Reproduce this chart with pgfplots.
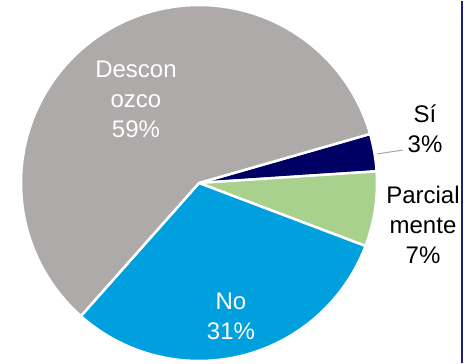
\documentclass[border=0pt]{standalone}
\usepackage{pgfplots}
\pgfplotsset{compat=1.18}
\usepackage{fontspec}
\setmainfont{Liberation Sans}
\definecolor{cGray}{RGB}{174,170,170}
\definecolor{cBlue}{RGB}{0,160,223}
\definecolor{cGreen}{RGB}{169,209,142}
\definecolor{cNavy}{RGB}{0,0,100}
\definecolor{cBorder}{RGB}{32,32,120}
\definecolor{cLeader}{RGB}{166,166,166}
% data (percent)
\def\vSi{3.4}
\def\vPa{6.8}
\def\vNo{30.8}
\def\vDe{59.0}
\def\startA{16}
\pgfmathsetmacro\aA{\startA}
\pgfmathsetmacro\aB{\aA-3.6*\vSi}
\pgfmathsetmacro\aC{\aB-3.6*\vPa}
\pgfmathsetmacro\aD{\aC-3.6*\vNo}
\pgfmathsetmacro\aE{\aD-3.6*\vDe}
\def\cx{199}
\def\cy{180}
\def\R{178}
\begin{document}
\begin{tikzpicture}
\begin{axis}[
  hide axis, scale only axis,
  width=469pt, height=362pt,
  xmin=0, xmax=469, ymin=0, ymax=362,
  clip=false,
]
\path (axis cs:0,0) rectangle (axis cs:469,362);
\addplot[fill=cNavy, draw=white, line width=2.5pt, line join=round, domain=\aB:\aA, samples=30]
  ({\cx+\R*cos(x)},{\cy+\R*sin(x)}) -- (axis cs:\cx,\cy) -- cycle;
\addplot[fill=cGreen, draw=white, line width=2.5pt, line join=round, domain=\aC:\aB, samples=40]
  ({\cx+\R*cos(x)},{\cy+\R*sin(x)}) -- (axis cs:\cx,\cy) -- cycle;
\addplot[fill=cBlue, draw=white, line width=2.5pt, line join=round, domain=\aD:\aC, samples=80]
  ({\cx+\R*cos(x)},{\cy+\R*sin(x)}) -- (axis cs:\cx,\cy) -- cycle;
\addplot[fill=cGray, draw=white, line width=2.5pt, line join=round, domain=\aE:\aD, samples=120]
  ({\cx+\R*cos(x)},{\cy+\R*sin(x)}) -- (axis cs:\cx,\cy) -- cycle;
% leader line
\draw[cLeader, line width=1pt] (axis cs:377,209) -- (axis cs:403,213);
% labels
\node[white, align=center, font=\fontsize{24}{30}\selectfont] at (axis cs:136,264) {Descon\\ozco\\59\%};
\node[white, align=center, font=\fontsize{24}{30}\selectfont] at (axis cs:231,47) {No\\31\%};
\node[black, align=center, font=\fontsize{24}{30}\selectfont] at (axis cs:425,234) {Sí\\3\%};
\node[black, align=center, font=\fontsize{24}{30}\selectfont] at (axis cs:423,138) {Parcial\\mente\\7\%};
% right border
\draw[cBorder, line width=2pt] (axis cs:462,0) -- (axis cs:462,362);
\end{axis}
\end{tikzpicture}
\end{document}
